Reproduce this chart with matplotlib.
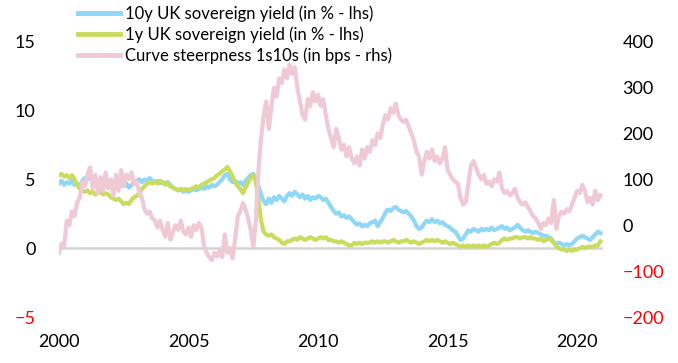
import numpy as np
import matplotlib.pyplot as plt

plt.rcParams['font.family'] = ['Lato', 'DejaVu Sans']

# one value every 0.1 year, 2000.0 .. 2020.9
years = 2000 + np.arange(210) / 10

# 10y UK gilt yield, % (lhs)
ten_y = [
    4.7, 4.9, 4.6, 4.8, 4.7, 4.9, 4.6, 4.7, 4.5, 4.9,
    5.1, 5.0, 5.2, 5.0, 4.8, 4.6, 4.7, 4.5, 4.6, 4.4,
    4.7, 4.5, 4.7, 4.4, 4.6, 4.5, 4.7, 4.4, 4.6, 4.8,
    4.9, 5.0, 4.8, 5.0, 4.9, 5.1, 4.9, 4.8, 4.9, 4.7,
    4.8, 4.7, 4.8, 4.6, 4.4, 4.3, 4.2, 4.3, 4.1, 4.2,
    4.1, 4.2, 4.3, 4.2, 4.3, 4.4, 4.3, 4.5, 4.4, 4.6,
    4.5, 4.6, 4.8, 5.0, 5.3, 5.4, 5.0, 4.8, 4.9, 4.7,
    4.8, 4.6, 4.9, 5.1, 5.3, 5.4, 5.0, 4.5, 3.9, 3.4,
    3.2, 3.6, 3.3, 3.7, 3.5, 3.8, 3.6, 3.4, 3.8, 4.0,
    3.8, 4.1, 3.9, 3.7, 3.9, 3.6, 3.8, 3.5, 3.7, 3.6,
    3.8, 3.7, 3.5, 3.6, 3.3, 3.0, 2.7, 2.5, 2.6, 2.3,
    2.4, 2.2, 2.3, 2.1, 1.9, 1.7, 1.8, 1.6, 1.7, 1.6,
    1.8, 1.9, 2.0, 1.6, 1.9, 2.2, 2.6, 2.8, 2.7, 2.9,
    3.0, 2.8, 2.7, 2.6, 2.7, 2.5, 2.3, 2.0, 1.6, 1.4,
    1.5, 1.8, 2.0, 1.9, 2.1, 1.9, 2.0, 1.8, 1.9, 1.7,
    1.6, 1.5, 1.3, 1.2, 0.9, 0.6, 0.7, 1.0, 1.3, 1.2,
    1.4, 1.3, 1.2, 1.4, 1.3, 1.4, 1.3, 1.5, 1.3, 1.4,
    1.5, 1.6, 1.4, 1.5, 1.3, 1.4, 1.5, 1.7, 1.5, 1.3,
    1.2, 1.3, 1.2, 1.1, 1.2, 1.1, 1.0, 0.9, 0.9, 0.8,
    0.7, 0.4, 0.3, 0.4, 0.3, 0.2, 0.3, 0.2, 0.3, 0.5,
    0.7, 0.8, 0.9, 0.8, 0.7, 0.6, 0.8, 1.0, 1.2, 1.1,
]

# 1y UK gilt yield, % (lhs)
one_y = [
    5.3, 5.4, 5.2, 5.3, 5.1, 5.3, 5.0, 4.6, 4.3, 4.2,
    4.1, 4.2, 4.0, 4.1, 3.9, 4.0, 4.1, 3.9, 4.0, 3.9,
    3.7, 3.6, 3.5, 3.6, 3.4, 3.2, 3.3, 3.2, 3.5, 3.7,
    3.8, 4.0, 4.3, 4.5, 4.7, 4.8, 4.7, 4.8, 4.7, 4.9,
    4.8, 4.6, 4.7, 4.5, 4.4, 4.3, 4.2, 4.3, 4.2, 4.3,
    4.2, 4.3, 4.4, 4.5, 4.4, 4.6, 4.7, 4.8, 4.9, 5.0,
    5.1, 5.3, 5.4, 5.6, 5.7, 5.9, 5.6, 5.2, 4.8, 4.5,
    4.3, 4.0, 4.4, 4.8, 5.1, 5.3, 4.8, 3.5, 2.0, 1.2,
    1.0, 0.9, 1.0, 0.8, 0.7, 0.6, 0.4, 0.3, 0.5, 0.5,
    0.6, 0.7, 0.6, 0.8, 0.7, 0.6, 0.7, 0.8, 0.7, 0.6,
    0.7, 0.8, 0.7, 0.8, 0.6, 0.6, 0.5, 0.5, 0.4, 0.5,
    0.4, 0.3, 0.2, 0.2, 0.4, 0.3, 0.4, 0.3, 0.4, 0.4,
    0.4, 0.5, 0.4, 0.5, 0.4, 0.5, 0.5, 0.4, 0.5, 0.6,
    0.5, 0.4, 0.5, 0.5, 0.6, 0.5, 0.4, 0.5, 0.4, 0.3,
    0.4, 0.5, 0.6, 0.5, 0.6, 0.5, 0.6, 0.5, 0.4, 0.5,
    0.4, 0.3, 0.4, 0.3, 0.2, 0.1, 0.2, 0.1, 0.2, 0.1,
    0.2, 0.1, 0.2, 0.1, 0.2, 0.1, 0.2, 0.3, 0.4, 0.3,
    0.4, 0.6, 0.7, 0.6, 0.7, 0.7, 0.8, 0.8, 0.7, 0.8,
    0.8, 0.7, 0.8, 0.7, 0.7, 0.6, 0.7, 0.5, 0.6, 0.7,
    0.6, 0.4, 0.1, 0.0, -0.1, -0.1, -0.2, -0.1, -0.2, -0.1,
    -0.1, 0.0, 0.1, 0.0, 0.1, 0.1, 0.1, 0.2, 0.2, 0.5,
]

# 1s10s curve steepness, bps (rhs)
steepness = [
    -60, -40, -45, 10, 0, 30, 20, 50, 60, 95,
    85, 110, 126, 80, 110, 70, 105, 75, 115, 80,
    100, 65, 110, 75, 120, 85, 110, 100, 115, 90,
    95, 70, 60, 35, 25, 30, 15, 10, -5, 10,
    -10, -25, 5, -32, -15, 0, -10, 10, -15, -20,
    -5, -25, 0, -10, 5, -5, -45, -60, -70, -76,
    -60, -68, -55, -70, -20, -60, -50, -72, -30, 20,
    30, 48, 35, 15, -10, -48, 10, 120, 190, 240,
    270, 210, 260, 300, 280, 320, 310, 340, 320, 350,
    330, 345, 300, 270, 240, 230, 275, 260, 290, 270,
    285, 260, 275, 240, 210, 190, 170, 210, 190, 165,
    175, 150, 170, 145, 135, 150, 130, 165, 145, 170,
    160, 185, 175, 200, 190, 220, 240, 230, 255, 245,
    265, 240, 230, 225, 230, 215, 200, 185, 160, 150,
    110, 140, 160, 145, 165, 140, 150, 135, 145, 170,
    120, 110, 100, 95, 90, 60, 45, 50, 90, 130,
    140, 125, 110, 100, 110, 90, 95, 85, 100, 95,
    115, 80, 70, 75, 65, 70, 80, 60, 50, 45,
    50, 40, 30, 20, 15, 5, -8, 5, 0, 15,
    5, 55, -8, 20, 30, 25, 35, 30, 45, 60,
    75, 70, 88, 75, 50, 60, 45, 75, 55, 65,
]

labels = ['10y UK sovereign yield (in % - lhs)',
          '1y UK sovereign yield (in % - lhs)',
          'Curve steerpness 1s10s (in bps - rhs)']
colors = ['#8fd7f7', '#c9dc5e', '#efcad4']

fig = plt.figure(figsize=(6.78, 3.63), dpi=100)
ax = fig.add_axes([59 / 678, 46 / 363, 544 / 678, 275.3 / 363])

ax.axhline(0, color='#d4d4d4', lw=1.8, zorder=0)
l1, = ax.plot(years, ten_y, color=colors[0], lw=3)
l2, = ax.plot(years, one_y, color=colors[1], lw=3)
ax.set_ylim(-5, 15)
ax.set_yticks([-5, 0, 5, 10, 15])
ax.set_xlim(2000, 2021)
ax.set_xticks([2000, 2005, 2010, 2015, 2020])

ax2 = ax.twinx()
l3, = ax2.plot(years, steepness, color=colors[2], lw=3)
ax2.set_ylim(-200, 400)
ax2.set_yticks([-200, -100, 0, 100, 200, 300, 400])

for a in (ax, ax2):
    for s in a.spines.values():
        s.set_visible(False)
ax.tick_params(axis='y', length=0, labelsize=13, pad=17)
ax.tick_params(axis='x', length=0, labelsize=13, pad=12)
ax2.tick_params(axis='y', length=0, labelsize=13, pad=14)

# negative tick labels in red
for t, v in zip(ax.get_yticklabels(), ax.get_yticks()):
    if v < 0:
        t.set_color('red')
for t, v in zip(ax2.get_yticklabels(), ax2.get_yticks()):
    if v < 0:
        t.set_color('red')

leg = fig.legend([l1, l2, l3], labels, loc='upper left',
                 bbox_to_anchor=(78 / 678, 1 - 5 / 363), frameon=False,
                 fontsize=12, handlelength=2.5, handletextpad=0.3,
                 labelspacing=0.28, borderpad=0, borderaxespad=0)
for h in leg.get_lines():
    h.set_linewidth(3.5)

fig.savefig('out.png', dpi=100)
